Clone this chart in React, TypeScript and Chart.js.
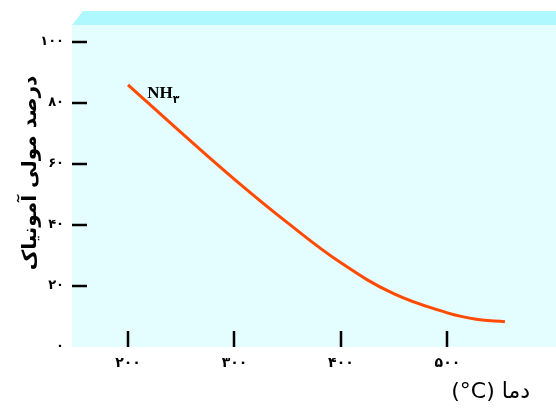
import React, { useEffect, useRef } from "react";
import { Chart, registerables } from "chart.js";

Chart.register(...registerables);

const temperatures = [200, 250, 300, 350, 400, 450, 500, 527, 554];
const ammoniaPercent = [86, 70.3, 55.0, 40.7, 27.6, 17.4, 11.2, 9.1, 8.3];
const yTickValues = [0, 20, 40, 60, 80, 100];
const yTickLabels = ["۰", "۲۰", "۴۰", "۶۰", "۸۰", "۱۰۰"];
const xTickValues = [200, 300, 400, 500];
const xTickLabels = ["۲۰۰", "۳۰۰", "۴۰۰", "۵۰۰"];
const yAxisTitle = "درصد مولی آمونیاک";
const xAxisTitle = "(°C) دما";
const seriesLabel = "NH";
const seriesSub = "۳";

const decorPlugin = {
  id: "decor",
  beforeDraw(chart: any) {
    const { ctx, chartArea } = chart;
    const { left, top, right, bottom } = chartArea;
    ctx.save();
    ctx.fillStyle = "#e4fdfe";
    ctx.fillRect(left, top, right - left, bottom - top);
    ctx.fillStyle = "#aef8fe";
    ctx.beginPath();
    ctx.moveTo(left, top);
    ctx.lineTo(left + 11, top - 14);
    ctx.lineTo(chart.width, top - 14);
    ctx.lineTo(chart.width, top);
    ctx.closePath();
    ctx.fill();
    ctx.restore();
  },
  afterDatasetsDraw(chart: any) {
    const { ctx, chartArea, scales } = chart;
    const xs = scales.x;
    const ys = scales.y;
    ctx.save();
    ctx.strokeStyle = "#000";
    ctx.lineWidth = 2.5;
    yTickValues.forEach((v) => {
      if (v === 0) return;
      const y = Math.round(ys.getPixelForValue(v));
      ctx.beginPath();
      ctx.moveTo(chartArea.left, y);
      ctx.lineTo(chartArea.left + 15, y);
      ctx.stroke();
    });
    xTickValues.forEach((v) => {
      const x = Math.round(xs.getPixelForValue(v));
      ctx.beginPath();
      ctx.moveTo(x, chartArea.bottom - 16);
      ctx.lineTo(x, chartArea.bottom);
      ctx.stroke();
    });
    // series label
    const lx = xs.getPixelForValue(218);
    const ly = ys.getPixelForValue(81.5);
    ctx.fillStyle = "#000";
    ctx.textBaseline = "alphabetic";
    ctx.textAlign = "left";
    ctx.font = "bold 17px 'Liberation Serif'";
    ctx.fillText(seriesLabel, lx, ly);
    const w = ctx.measureText(seriesLabel).width;
    ctx.font = "bold 11px 'DejaVu Sans'";
    ctx.fillText(seriesSub, lx + w, ly + 5);
    // y axis title
    ctx.save();
    ctx.translate(31, 173);
    ctx.rotate(-Math.PI / 2);
    ctx.textAlign = "center";
    ctx.textBaseline = "middle";
    ctx.font = "bold 20px 'DejaVu Sans'";
    ctx.fillText(yAxisTitle, 0, 0);
    ctx.restore();
    // x axis title
    ctx.textAlign = "right";
    ctx.textBaseline = "middle";
    ctx.font = "22px 'DejaVu Sans'";
    ctx.fillText(xAxisTitle, 530, 392);
    ctx.restore();
  },
};

export default function App() {
  const ref = useRef<HTMLCanvasElement>(null);
  useEffect(() => {
    const chart = new Chart(ref.current!, {
      type: "line",
      data: {
        datasets: [
          {
            data: temperatures.map((t, i) => ({ x: t, y: ammoniaPercent[i] })),
            borderColor: "#ff4a00",
            borderWidth: 3,
            pointRadius: 0,
            tension: 0.4,
            fill: false,
          },
        ],
      },
      options: {
        animation: false,
        responsive: true,
        maintainAspectRatio: false,
        layout: { padding: { top: 25, left: 0, right: 0, bottom: 0 } },
        plugins: { legend: { display: false }, tooltip: { enabled: false } },
        scales: {
          x: {
            type: "linear",
            min: 147.4,
            max: 602,
            border: { display: false },
            grid: { display: false, drawTicks: false },
            afterBuildTicks: (s: any) => {
              s.ticks = xTickValues.map((v) => ({ value: v }));
            },
            afterFit: (s: any) => {
              s.height = 63;
            },
            ticks: {
              padding: 8,
              color: "#000",
              font: { family: "'DejaVu Sans'", size: 14, weight: "bold" },
              callback: (v: any) => xTickLabels[xTickValues.indexOf(v)] ?? "",
              maxRotation: 0,
            },
          },
          y: {
            type: "linear",
            min: 0,
            max: 105.6,
            border: { display: false },
            grid: { display: false, drawTicks: false },
            afterBuildTicks: (s: any) => {
              s.ticks = yTickValues.map((v) => ({ value: v }));
            },
            afterFit: (s: any) => {
              s.width = 72;
            },
            ticks: {
              padding: 8,
              color: "#000",
              font: { family: "'DejaVu Sans'", size: 13, weight: "bold" },
              callback: (v: any) => yTickLabels[yTickValues.indexOf(v)] ?? "",
            },
          },
        },
      },
      plugins: [decorPlugin],
    });
    return () => chart.destroy();
  }, []);
  return (
    <div style={{ position: "fixed", left: 0, top: 0, width: 556, height: 410 }}>
      <canvas ref={ref} />
    </div>
  );
}
